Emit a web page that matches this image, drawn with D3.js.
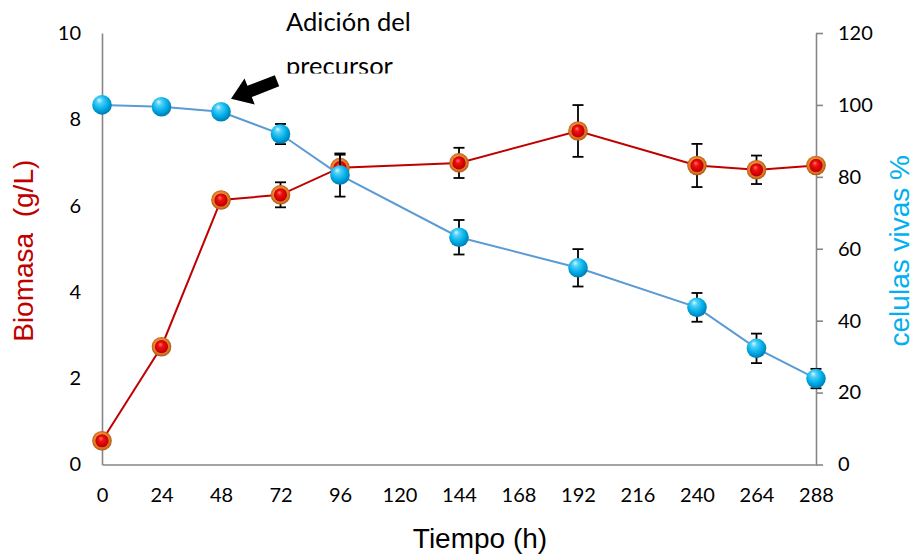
<!DOCTYPE html>
<html>
<head>
<meta charset="utf-8">
<script src="https://cdn.jsdelivr.net/npm/d3@7"></script>
<style>
  html, body { margin: 0; padding: 0; background: #fff; }
  svg { display: block; }
</style>
</head>
<body>
<svg id="chart" width="914" height="554"></svg>
<script>
// Sampling times (h)
const tiempo = [0, 24, 48, 72, 96, 144, 192, 240, 264, 288];
// Biomass (g/L) and its standard deviation
const biomasa = [0.55, 2.73, 6.13, 6.25, 6.88, 6.99, 7.73, 6.93, 6.83, 6.93];
const biomasaErr = [0, 0, 0, 0.29, 0.3, 0.35, 0.6, 0.5, 0.33, 0];
// Viable cells (%) and its standard deviation
const viables = [100, 99.5, 98.1, 91.9, 80.5, 63.2, 54.7, 43.7, 32.3, 23.9];
const viablesErr = [0, 0, 0, 2.8, 6, 4.8, 5.2, 4, 4.1, 2.7];
// Axis ticks
const xTicks = [0, 24, 48, 72, 96, 120, 144, 168, 192, 216, 240, 264, 288];
const yLeftTicks = [0, 2, 4, 6, 8, 10];
const yRightTicks = [0, 20, 40, 60, 80, 100, 120];
// Annotation
const notaLineas = ["Adición del", "precursor"];
const notaTiempo = 48;

const svg = d3.select("#chart");

const x = d3.scaleLinear().domain([0, 288]).range([102, 816]);
const yL = d3.scaleLinear().domain([0, 10]).range([464.5, 33]);
const yR = d3.scaleLinear().domain([0, 120]).range([464.5, 33]);

const axisColor = "#868686";
const tickFont = "Lato, 'Open Sans', sans-serif";

// Gradients for the glossy markers
const defs = svg.append("defs");
const gBlue = defs.append("radialGradient").attr("id", "gBlue")
  .attr("cx", "45%").attr("cy", "40%").attr("r", "60%").attr("fx", "35%").attr("fy", "25%");
[["0%", "#d8f7ff"], ["25%", "#4fd0f8"], ["65%", "#00aee8"], ["100%", "#0079b0"]]
  .forEach(([o, c]) => gBlue.append("stop").attr("offset", o).attr("stop-color", c));

const gRing = defs.append("radialGradient").attr("id", "gRing")
  .attr("cx", "50%").attr("cy", "50%").attr("r", "50%").attr("fx", "40%").attr("fy", "30%");
[["0%", "#ffc27a"], ["60%", "#f08a30"], ["85%", "#d9731f"], ["100%", "#a8561a"]]
  .forEach(([o, c]) => gRing.append("stop").attr("offset", o).attr("stop-color", c));

const gRed = defs.append("radialGradient").attr("id", "gRed")
  .attr("cx", "50%").attr("cy", "50%").attr("r", "55%").attr("fx", "40%").attr("fy", "30%");
[["0%", "#ff7a6a"], ["35%", "#ee1111"], ["80%", "#cc0000"], ["100%", "#990000"]]
  .forEach(([o, c]) => gRed.append("stop").attr("offset", o).attr("stop-color", c));

// Axes
const styleAxis = g => {
  g.select(".domain").attr("stroke", axisColor).attr("stroke-width", 1.6);
  g.selectAll(".tick line").attr("stroke", axisColor).attr("stroke-width", 1.6);
  g.selectAll(".tick text").attr("fill", "#000").style("font-family", tickFont).style("font-size", "20px");
};

svg.append("g")
  .attr("transform", `translate(0,${yL(0)})`)
  .call(d3.axisBottom(x).tickValues(xTicks).tickSize(0).tickPadding(23).tickFormat(d3.format("d")))
  .call(styleAxis);

svg.append("g")
  .attr("transform", `translate(${x(0)},0)`)
  .call(d3.axisLeft(yL).tickValues(yLeftTicks).tickSize(0).tickPadding(21).tickFormat(d3.format("d")))
  .call(styleAxis);

svg.append("g")
  .attr("transform", `translate(${x(288)},0)`)
  .call(d3.axisRight(yR).tickValues(yRightTicks).tickSizeInner(7).tickSizeOuter(0).tickPadding(15).tickFormat(d3.format("d")))
  .call(styleAxis);

// Axis titles
svg.append("text")
  .attr("transform", `translate(33,${(yL(0) + yL(10)) / 2 + 2}) rotate(-90)`)
  .attr("text-anchor", "middle")
  .attr("fill", "#c00000")
  .style("white-space", "pre")
  .style("font-family", "'Liberation Sans', Arial, sans-serif")
  .style("font-size", "28px")
  .text("Biomasa  (g/L)");

svg.append("text")
  .attr("transform", `translate(909,${(yR(0) + yR(120)) / 2 + 2}) rotate(-90)`)
  .attr("text-anchor", "middle")
  .attr("fill", "#00b0f0")
  .style("font-family", "'Liberation Sans', Arial, sans-serif")
  .style("font-size", "28px")
  .text("celulas vivas %");

svg.append("text")
  .attr("x", 480).attr("y", 547.5)
  .attr("text-anchor", "middle")
  .attr("fill", "#000")
  .style("font-family", "'Liberation Sans', Arial, sans-serif")
  .style("font-size", "28px")
  .text("Tiempo (h)");

// Series
const bioData = tiempo.map((t, i) => ({ t, v: biomasa[i], e: biomasaErr[i] }));
const vivData = tiempo.map((t, i) => ({ t, v: viables[i], e: viablesErr[i] }));

const drawErrors = (data, y) => {
  const g = svg.append("g").attr("stroke", "#000").attr("stroke-width", 1.8).attr("fill", "none");
  data.filter(d => d.e > 0).forEach(d => {
    const cx = x(d.t), top = y(d.v + d.e), bot = y(d.v - d.e);
    g.append("line").attr("x1", cx).attr("x2", cx).attr("y1", top).attr("y2", bot);
    g.append("line").attr("x1", cx - 5.5).attr("x2", cx + 5.5).attr("y1", top).attr("y2", top);
    g.append("line").attr("x1", cx - 5.5).attr("x2", cx + 5.5).attr("y1", bot).attr("y2", bot);
  });
};

// Biomass line
svg.append("path")
  .datum(bioData)
  .attr("fill", "none")
  .attr("stroke", "#c00000")
  .attr("stroke-width", 2)
  .attr("d", d3.line().x(d => x(d.t)).y(d => yL(d.v)));
drawErrors(bioData, yL);
const bioPts = svg.append("g").selectAll("g").data(bioData).join("g")
  .attr("transform", d => `translate(${x(d.t)},${yL(d.v)})`);
bioPts.append("circle").attr("r", 9.8).attr("fill", "url(#gRing)");
bioPts.append("circle").attr("r", 6.6).attr("fill", "url(#gRed)");

// Viable cells line
svg.append("path")
  .datum(vivData)
  .attr("fill", "none")
  .attr("stroke", "#5b9bd5")
  .attr("stroke-width", 2)
  .attr("d", d3.line().x(d => x(d.t)).y(d => yR(d.v)));
drawErrors(vivData, yR);
svg.append("g").selectAll("circle").data(vivData).join("circle")
  .attr("cx", d => x(d.t)).attr("cy", d => yR(d.v))
  .attr("r", 9.8)
  .attr("fill", "url(#gBlue)");

// Annotation: arrow pointing to the precursor addition point
const vNota = viables[tiempo.indexOf(notaTiempo)];
const tip = [x(notaTiempo) + 10, yR(vNota) - 13];
const tail = [tip[0] + 46, tip[1] - 18];
const len = Math.hypot(tail[0] - tip[0], tail[1] - tip[1]);
const ux = (tail[0] - tip[0]) / len, uy = (tail[1] - tip[1]) / len;
const px = -uy, py = ux;
const headL = 20, headW = 14, shaftW = 6;
const hb = [tip[0] + ux * headL, tip[1] + uy * headL];
const arrowPts = [
  tip,
  [hb[0] + px * headW, hb[1] + py * headW],
  [hb[0] + px * shaftW, hb[1] + py * shaftW],
  [tail[0] + px * shaftW, tail[1] + py * shaftW],
  [tail[0] - px * shaftW, tail[1] - py * shaftW],
  [hb[0] - px * shaftW, hb[1] - py * shaftW],
  [hb[0] - px * headW, hb[1] - py * headW]
];
svg.append("polygon")
  .attr("points", arrowPts.map(p => p.join(",")).join(" "))
  .attr("fill", "#000");

// Text box of the note (its lower edge trims the second line)
defs.append("clipPath").attr("id", "notaClip")
  .append("rect").attr("x", 270).attr("y", 0).attr("width", 200).attr("height", 73.5);
const nota = svg.append("text")
  .attr("clip-path", "url(#notaClip)")
  .attr("fill", "#000")
  .style("font-family", tickFont)
  .style("font-size", "25.5px");
notaLineas.forEach((t, i) => {
  nota.append("tspan").attr("x", 286).attr("y", 31 + i * 44).text(t);
});
</script>
</body>
</html>
